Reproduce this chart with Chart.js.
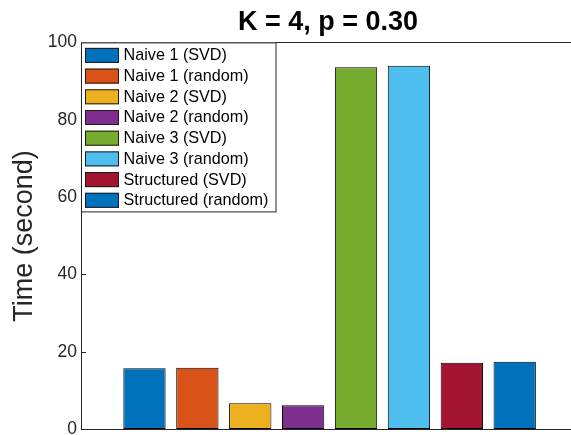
<!DOCTYPE html>
<html>
<head>
<meta charset="utf-8">
<script src="https://cdn.jsdelivr.net/npm/chart.js@4/dist/chart.umd.min.js"></script>
<style>
  html, body { margin: 0; padding: 0; background: #fff; overflow: hidden; }
  #wrap { width: 575px; height: 435px; }
</style>
</head>
<body>
<div id="wrap"><canvas id="myChart"></canvas></div>
<script>
// data
const methods = ['Naive 1 (SVD)', 'Naive 1 (random)', 'Naive 2 (SVD)', 'Naive 2 (random)',
                 'Naive 3 (SVD)', 'Naive 3 (random)', 'Structured (SVD)', 'Structured (random)'];
const times = [15.8, 15.95, 6.76, 6.25, 93.6, 94.0, 17.24, 17.5];
const colors = ['#0072BD', '#D95319', '#EDB120', '#7E2F8E', '#77AC30', '#4DBEEE', '#A2142F', '#0072BD'];
const yTicks = [0, 20, 40, 60, 80, 100];
const titleText = 'K = 4, p = 0.30';
const yTitle = 'Time (second)';

const FONT = 'Liberation Sans, Arial, Helvetica, sans-serif';
const INK = '#262626';

// one dataset per method so every bar gets its own legend entry
const datasets = methods.map((m, i) => ({
    label: m,
    data: [{x: i + 1, y: times[i]}],
    backgroundColor: colors[i],
    borderColor: '#000',
    borderWidth: 1,
    borderSkipped: false,
    grouped: false,
    barPercentage: 0.8,
    categoryPercentage: 1
}));

// MATLAB style legend box drawn over the top-left of the plot
const boxLegend = {
    id: 'boxLegend',
    afterDatasetsDraw(chart) {
        const ctx = chart.ctx;
        const a = chart.chartArea;
        const x0 = a.left, y0 = a.top, w = 194.5, h = 169;
        ctx.save();
        ctx.fillStyle = '#fff';
        ctx.fillRect(x0, y0, w, h);
        ctx.strokeStyle = INK;
        ctx.lineWidth = 1;
        ctx.strokeRect(x0 + 0.5, y0 + 0.5, w, h);
        ctx.font = '16.2px ' + FONT;
        ctx.textBaseline = 'middle';
        chart.data.datasets.forEach((ds, i) => {
            const sy = y0 + 5.5 + i * 20.7;
            ctx.fillStyle = ds.backgroundColor;
            ctx.fillRect(x0 + 4, sy, 34, 15);
            ctx.strokeStyle = '#1a1a1a';
            ctx.strokeRect(x0 + 4.5, sy + 0.5, 33, 14);
            ctx.fillStyle = '#000';
            ctx.fillText(ds.label, x0 + 42.5, sy + 8);
        });
        ctx.restore();
    }
};

const ctx = document.getElementById('myChart').getContext('2d');
new Chart(ctx, {
    type: 'bar',
    data: { datasets: datasets },
    options: {
        responsive: true,
        maintainAspectRatio: false,
        animation: false,
        layout: { padding: 0 },
        plugins: {
            legend: { display: false },
            tooltip: { enabled: false },
            title: {
                display: true,
                text: titleText,
                fullSize: false,
                color: '#000',
                font: { family: FONT, size: 27, weight: 'bold' },
                padding: { top: 6, bottom: 4 }
            }
        },
        scales: {
            x: {
                type: 'linear',
                min: -0.2,
                max: 9.14,
                offset: false,
                ticks: { display: false },
                grid: { display: false, drawTicks: false },
                border: { display: true, color: INK, width: 1 },
                afterFit(s) { s.height = 5.5; s.paddingLeft = 0; s.paddingRight = 0; }
            },
            xTop: {
                type: 'linear',
                axis: 'x',
                position: 'top',
                min: -0.2,
                max: 9.14,
                ticks: { display: false },
                grid: { display: false, drawTicks: false },
                border: { display: true, color: INK, width: 1 },
                afterFit(s) { s.height = 0; s.paddingLeft = 0; s.paddingRight = 0; }
            },
            y: {
                min: 0,
                max: 100,
                afterBuildTicks(s) { s.ticks = yTicks.map(v => ({value: v})); },
                ticks: {
                    color: INK,
                    padding: 9,
                    font: { family: FONT, size: 17.5 }
                },
                grid: { drawOnChartArea: false, tickLength: -5, color: INK },
                border: { display: true, color: INK, width: 1 },
                title: {
                    display: true,
                    text: yTitle,
                    color: INK,
                    font: { family: FONT, size: 27 },
                    padding: { top: 8, bottom: 0 }
                },
                afterFit(s) {
                    s.width = 81;
                    s.paddingTop = 0;
                    s.paddingBottom = 0;
                }
            }
        }
    },
    plugins: [boxLegend]
});
</script>
</body>
</html>
